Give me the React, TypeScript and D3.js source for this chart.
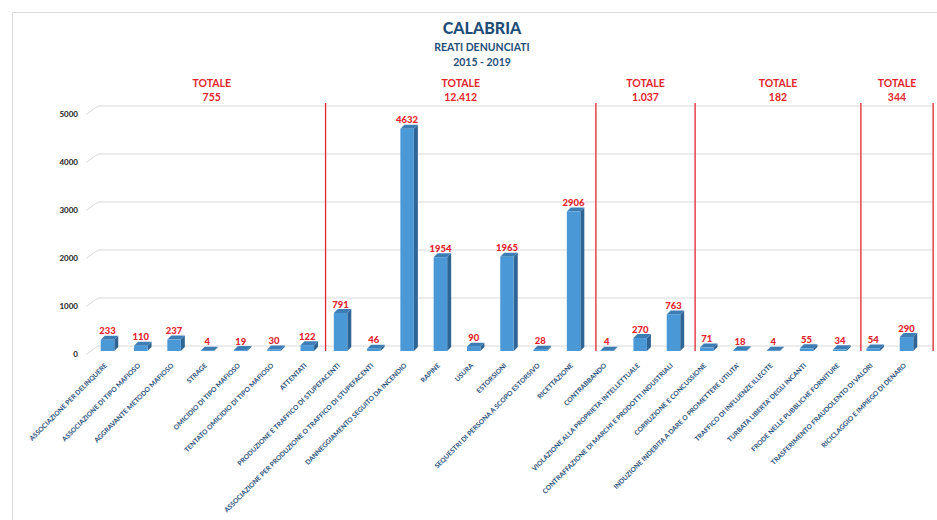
import React from "react";
import * as d3 from "d3";

const categories: string[] = [
  "ASSOCIAZIONE PER DELINQUERE",
  "ASSOCIAZIONE DI TIPO MAFIOSO",
  "AGGRAVANTE METODO MAFIOSO",
  "STRAGE",
  "OMICIDIO DI TIPO MAFIOSO",
  "TENTATO OMICIDIO DI TIPO MAFIOSO",
  "ATTENTATI",
  "PRODUZIONE E TRAFFICO DI STUPEFACENTI",
  "ASSOCIAZIONE PER PRODUZIONE O TRAFFICO DI STUPEFACENTI",
  "DANNEGGIAMENTO SEGUITO DA INCENDIO",
  "RAPINE",
  "USURA",
  "ESTORSIONI",
  "SEQUESTRI DI PERSONA A SCOPO ESTORSIVO",
  "RICETTAZIONE",
  "CONTRABBANDO",
  "VIOLAZIONE ALLA PROPRIETA' INTELLETTUALE",
  "CONTRAFFAZIONE DI MARCHI E PRODOTTI INDUSTRIALI",
  "CORRUZIONE E CONCUSSIONE",
  "INDUZIONE INDEBITA A DARE O PROMETTERE UTILITA'",
  "TRAFFICO DI INFLUENZE ILLECITE",
  "TURBATA LIBERTA' DEGLI INCANTI",
  "FRODE NELLE PUBBLICHE FORNITURE",
  "TRASFERIMENTO FRAUDOLENTO DI VALORI",
  "RICICLAGGIO E IMPIEGO DI DENARO",
];

const values: number[] = [
  233, 110, 237, 4, 19, 30, 122,
  791, 46, 4632, 1954, 90, 1965, 28, 2906,
  4, 270, 763,
  71, 18, 4, 55, 34,
  54, 290,
];

const groupTotals: string[] = ["755", "12.412", "1.037", "182", "344"];
// group boundaries, expressed in category-index units
const groupStart = -0.29;
const groupBoundaries: number[] = [6.55, 14.67, 17.65, 22.63, 24.8];

const yTicks: number[] = [0, 1000, 2000, 3000, 4000, 5000];

const FONT = "Lato, 'Open Sans', sans-serif";
const BLUE_TXT = "#1F4E79";
const RED = "#E2242D";

export default function App() {
  const W = 937;
  const H = 520;
  const idx = d3.scaleLinear().domain([0, categories.length - 1]).range([107.5, 906.5]);
  const y = d3.scaleLinear().domain([0, 5000]).range([354, 114]);
  const depthX = 4;
  const depthY = 4;
  const backDx = 11;
  const backDy = 8;
  const barW = 13.5;
  const barShift = 3;
  const gridRight = 933;
  const lineTop = y(5000) - backDy - 3;
  const lineBottom = y(0) - barShift;

  const bounds = [groupStart, ...groupBoundaries];

  return (
    <div style={{ position: "absolute", left: 0, top: 0 }}>
      <svg width={W} height={H} style={{ display: "block", background: "#fff" }}>
        <rect x={12.5} y={12.5} width={W + 20} height={H + 20} fill="none" stroke="#d9d9d9" strokeWidth={1} />

        {/* title */}
        <text x={482} y={34} textAnchor="middle" fontFamily={FONT} fontWeight={900} fontSize={16} fill={BLUE_TXT}>CALABRIA</text>
        <text x={482} y={51} textAnchor="middle" fontFamily={FONT} fontWeight={700} fontSize={10.5} fill={BLUE_TXT}>REATI DENUNCIATI</text>
        <text x={482} y={66} textAnchor="middle" fontFamily={FONT} fontWeight={700} fontSize={10.5} fill={BLUE_TXT}>2015 - 2019</text>

        {/* gridlines */}
        {yTicks.map((t) => (
          <g key={t}>
            <path
              d={`M${87},${y(t)} L${87 + backDx},${y(t) - backDy} L${gridRight},${y(t) - backDy}`}
              fill="none"
              stroke="#d9d9d9"
              strokeWidth={1}
            />
            <text x={78} y={y(t) + 3} textAnchor="end" fontFamily={FONT} fontWeight={700} fontSize={8} fill="#222">
              {t}
            </text>
          </g>
        ))}

        {/* separators */}
        {groupBoundaries.map((b, i) => (
          <line key={i} x1={idx(b)} x2={idx(b)} y1={lineTop} y2={lineBottom} stroke={RED} strokeWidth={1.3} />
        ))}

        {/* group totals */}
        {groupTotals.map((tot, i) => {
          const cx = (idx(bounds[i]) + idx(bounds[i + 1])) / 2;
          return (
            <g key={i}>
              <text x={cx} y={87} textAnchor="middle" fontFamily={FONT} fontWeight={700} fontSize={10.5} fill={RED}>TOTALE</text>
              <text x={cx} y={101} textAnchor="middle" fontFamily={FONT} fontWeight={700} fontSize={10.5} fill={RED}>{tot}</text>
            </g>
          );
        })}

        {/* bars */}
        {values.map((v, i) => {
          const cx = idx(i);
          const x0 = cx - barW / 2;
          const x1 = cx + barW / 2;
          const yb = y(0) - barShift;
          const yt = y(v) - barShift;
          return (
            <g key={i}>
              <path
                d={`M${x1},${yb} L${x1 + depthX},${yb - depthY} L${x1 + depthX},${yt - depthY} L${x1},${yt} Z`}
                fill="#2F6594"
              />
              <path
                d={`M${x0},${yt} L${x0 + depthX},${yt - depthY} L${x1 + depthX},${yt - depthY} L${x1},${yt} Z`}
                fill="#3C7DB6"
              />
              <rect x={x0} y={yt} width={barW} height={Math.max(0, yb - yt)} fill="#4A98D6" />
              <text x={cx} y={yt - depthY - 1.5} textAnchor="middle" fontFamily={FONT} fontWeight={900} fontSize={9.5} fill={RED}>
                {v}
              </text>
            </g>
          );
        })}

        {/* category labels */}
        {categories.map((c, i) => {
          const ax = idx(i);
          const ay = 366;
          return (
            <text
              key={i}
              x={ax}
              y={ay}
              transform={`rotate(-45, ${ax}, ${ay})`}
              textAnchor="end"
              fontFamily={FONT}
              fontWeight={700}
              fontSize={6.7}
              fill={BLUE_TXT}
            >
              {c}
            </text>
          );
        })}
      </svg>
    </div>
  );
}
